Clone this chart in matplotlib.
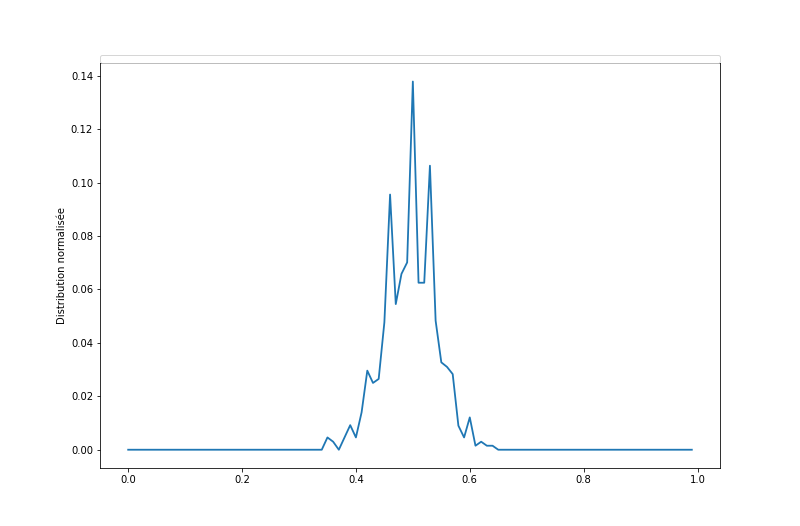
import numpy as np
import matplotlib
matplotlib.use('Agg')
import matplotlib.pyplot as plt

# valeurs (pas de 0.01)
x = [i / 100 for i in range(100)]
pic_debut = 35
pic = [0.0046, 0.0030, 0.0, 0.0046, 0.0092, 0.0046, 0.0140, 0.0296, 0.0250,
       0.0265, 0.0477, 0.0955, 0.0545, 0.0658, 0.0701, 0.1378, 0.0625,
       0.0625, 0.1063, 0.0483, 0.0327, 0.0310, 0.0283, 0.0090, 0.0046,
       0.0121, 0.0015, 0.0030, 0.0015, 0.0015]
y = [0.0] * pic_debut + pic + [0.0] * (100 - pic_debut - len(pic))

fig, ax = plt.subplots(figsize=(800 / 72, 526 / 72), dpi=72)
ax.plot(x, y, lw=1.8)
ax.set_ylabel('Distribution normalisée')
ax.legend(handles=[], loc='upper left', bbox_to_anchor=(0, 1.02, 1, 0),
          mode='expand', borderaxespad=0)
fig.savefig('out.png')
